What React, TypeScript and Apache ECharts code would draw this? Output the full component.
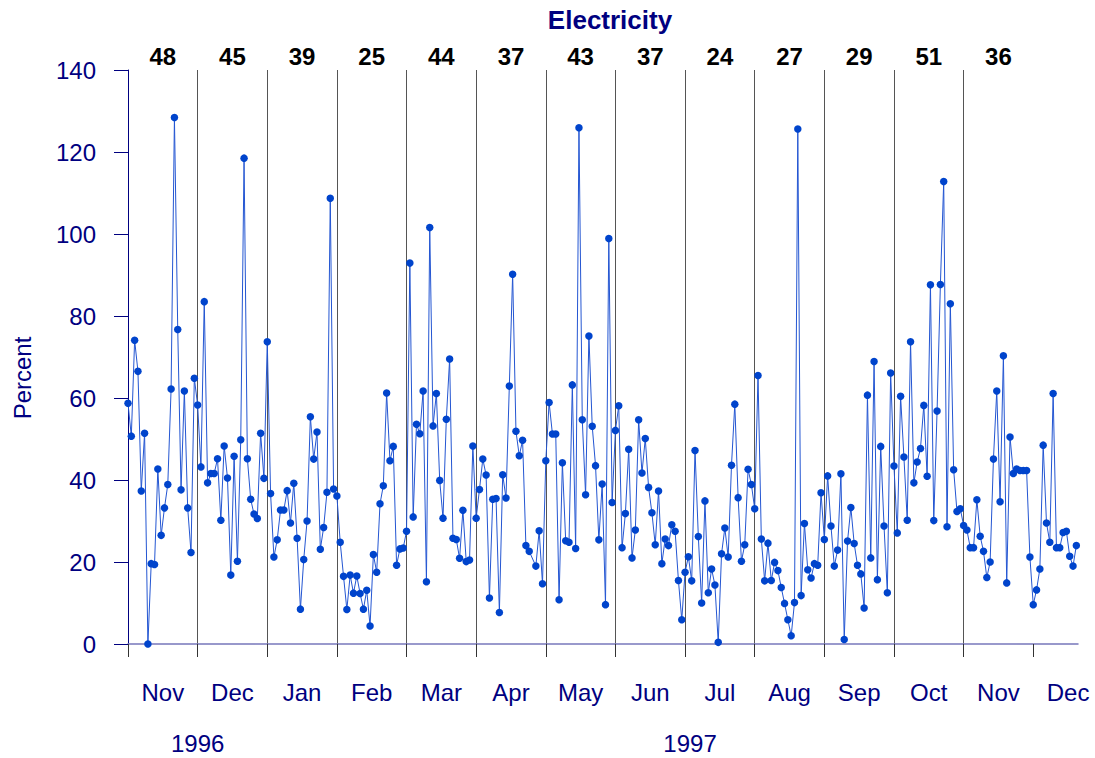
import React, { useEffect, useRef } from "react";
import * as echarts from "echarts";

// Month labels along the bottom (Nov 1996 .. Dec 1997)
const monthNames = ["Nov", "Dec", "Jan", "Feb", "Mar", "Apr", "May", "Jun", "Jul", "Aug", "Sep", "Oct", "Nov", "Dec"];
// Numbers printed above each month
const monthCounts = ["48", "45", "39", "25", "44", "37", "43", "37", "24", "27", "29", "51", "36"];
// Year labels and the index positions they sit under
const yearLabels = ["1996", "1997"];
const yearPositions = [21, 169.5];
// Observations per month on the x index
const POINTS_PER_MONTH = 21;

// Series values, month by month (Percent)
const nov96 = [58.7, 50.7, 74.1, 66.5, 37.3, 51.4, 0, 19.6, 19.4, 42.7, 26.5, 33.2, 38.9, 62.2, 128.4, 76.7, 37.6, 61.7, 33.2, 22.3, 64.8];
const dec96 = [58.3, 43.2, 83.5, 39.3, 41.6, 41.6, 45.2, 30.2, 48.3, 40.5, 16.8, 45.8, 20.2, 49.8, 118.5, 45.2, 35.3, 31.7, 30.6, 51.4, 40.4];
const jan97 = [73.7, 36.7, 21.2, 25.4, 32.7, 32.7, 37.4, 29.5, 39.2, 25.8, 8.5, 20.6, 30.0, 55.4, 45.1, 51.7, 23.1, 28.4, 37.0, 108.7, 37.8];
const feb97 = [36.1, 24.8, 16.5, 8.4, 16.8, 12.4, 16.6, 12.3, 8.5, 13.1, 4.4, 21.8, 17.5, 34.2, 38.6, 61.2, 44.7, 48.2, 19.2, 23.2, 23.4];
const mar97 = [27.5, 92.9, 31.0, 53.6, 51.3, 61.7, 15.2, 101.6, 53.2, 61.1, 39.9, 30.7, 54.8, 69.5, 25.8, 25.5, 20.9, 32.6, 20.1, 20.5, 48.3];
const apr97 = [30.7, 37.7, 45.1, 41.2, 11.2, 35.3, 35.5, 7.7, 41.3, 35.6, 62.9, 90.2, 51.9, 45.9, 49.7, 24.0, 22.6, null, 19.0, 27.6, 14.7];
const may97 = [44.7, 58.9, 51.2, 51.2, 10.8, 44.2, 25.2, 24.8, 63.2, 23.3, 125.9, 54.7, 36.4, 75.1, 53.1, 43.5, 25.4, 39.0, 9.6, 98.9, 34.5];
const jun97 = [52.1, 58.1, 23.5, 31.8, 47.5, 21.0, 27.8, 54.7, 41.7, 50.1, 38.2, 32.0, 24.2, 37.3, 19.6, 25.6, 24.0, 29.1, 27.5, 15.5, 5.9];
const jul97 = [17.5, 21.3, 15.4, 47.2, 26.2, 10.0, 34.9, 12.5, 18.3, 14.4, 0.4, 22.0, 28.3, 21.2, 43.6, 58.5, 35.7, 20.2, 24.2, 42.6, 38.9];
const aug97 = [33.0, 65.5, 25.6, 15.4, 24.6, 15.5, 19.9, 17.9, 13.8, 9.9, 5.9, 2.0, 10.1, 125.6, 11.8, 29.4, 18.1, 16.1, 19.6, 19.2, 36.9];
const sep97 = [25.5, 41.0, 28.8, 19.0, 22.9, 41.5, 1.1, 25.1, 33.3, 24.5, 19.2, 17.1, 8.8, 60.7, 21.0, 68.9, 15.7, 48.2, 28.8, 12.5, 66.1];
const oct97 = [43.4, 27.1, 60.4, 45.6, 30.2, 73.7, 39.3, 44.4, 47.7, 58.2, 40.9, 87.6, 30.1, 56.8, 87.7, 112.8, 28.6, 83.0, 42.5, 32.3, 33.0];
const nov97 = [28.9, 27.8, 23.5, 23.5, 35.2, 26.3, 22.6, 16.2, 20.0, 45.1, 61.7, 34.7, 70.3, 14.9, 50.5, 41.6, 42.7, 42.3, 42.3, 42.3, 21.2];
const dec97 = [9.6, 13.2, 18.3, 48.5, 29.5, 24.8, 61.1, 23.5, 23.5, 27.2, 27.5, 21.4, 19.0, 24.0];

const monthsData = [nov96, dec96, jan97, feb97, mar97, apr97, may97, jun97, jul97, aug97, sep97, oct97, nov97, dec97];

const FONT = "'Liberation Sans', Arial, Helvetica, sans-serif";
const NAVY = "#000080";

export default function App() {
  const ref = useRef<HTMLDivElement>(null);

  useEffect(() => {
    if (!ref.current) return;
    const chart = echarts.init(ref.current, undefined, { renderer: "svg" });

    const values: (number | null)[] = [];
    monthsData.forEach((m) => m.forEach((v) => values.push(v)));
    const seriesData = values.map((v, i) => [i, v]);
    const xMax = values.length - 0.5;

    const boundaries = monthNames.map((_, k) => k * POINTS_PER_MONTH);
    const monthCenters = monthNames.map((_, k) => k * POINTS_PER_MONTH + POINTS_PER_MONTH / 2);
    const countCenters = monthCounts.map((_, k) => k * POINTS_PER_MONTH + POINTS_PER_MONTH / 2);

    const idxOf = (v: number) => Math.round((v - POINTS_PER_MONTH / 2) / POINTS_PER_MONTH);

    chart.setOption({
      animation: false,
      grid: { left: 128, right: 17, top: 70, bottom: 114, containLabel: false },
      graphic: [
        {
          type: "text",
          x: 610,
          y: 20,
          style: {
            text: "Electricity",
            fill: NAVY,
            font: `bold 26px ${FONT}`,
            textAlign: "center",
            textVerticalAlign: "middle",
          },
        },
        {
          type: "text",
          x: 22,
          y: 378,
          rotation: Math.PI / 2,
          style: {
            text: "Percent",
            fill: NAVY,
            font: `24px ${FONT}`,
            textAlign: "center",
            textVerticalAlign: "middle",
          },
        },
      ],
      xAxis: [
        {
          type: "value",
          min: 0,
          max: xMax,
          interval: POINTS_PER_MONTH,
          position: "bottom",
          axisLine: { show: true, onZero: false, lineStyle: { color: "#7777bb", width: 1.5 } },
          axisTick: {
            show: true,
            length: 13,
            customValues: boundaries,
            lineStyle: { color: "#333333", width: 1 },
          },
          splitLine: {
            show: true,
            showMinLine: true,
            showMaxLine: false,
            lineStyle: { color: "#555555", width: 1 },
          },
          axisLabel: {
            show: true,
            customValues: monthCenters,
            margin: 36,
            color: NAVY,
            fontSize: 24,
            fontFamily: FONT,
            formatter: (v: number) => monthNames[idxOf(v)] ?? "",
          },
        },
        {
          type: "value",
          min: 0,
          max: xMax,
          position: "top",
          axisLine: { show: false },
          axisTick: { show: false },
          splitLine: { show: false },
          axisLabel: {
            show: true,
            customValues: countCenters,
            margin: 2,
            color: "#000000",
            fontSize: 24,
            fontWeight: "bold",
            fontFamily: FONT,
            formatter: (v: number) => monthCounts[idxOf(v)] ?? "",
          },
        },
        {
          type: "value",
          min: 0,
          max: xMax,
          position: "bottom",
          offset: 50,
          axisLine: { show: false },
          axisTick: { show: false },
          splitLine: { show: false },
          axisLabel: {
            show: true,
            customValues: yearPositions,
            margin: 37,
            color: NAVY,
            fontSize: 24,
            fontFamily: FONT,
            formatter: (v: number) => yearLabels[yearPositions.indexOf(v)] ?? "",
          },
        },
      ],
      yAxis: {
        type: "value",
        min: 0,
        max: 140,
        interval: 20,
        axisLine: { show: true, lineStyle: { color: NAVY, width: 1 } },
        axisTick: { show: true, length: 14, lineStyle: { color: NAVY } },
        splitLine: { show: false },
        axisLabel: { color: NAVY, fontSize: 24, fontFamily: FONT, margin: 32 },
      },
      series: [
        {
          type: "line",
          xAxisIndex: 0,
          data: seriesData,
          connectNulls: true,
          symbol: "circle",
          symbolSize: 7.5,
          showSymbol: true,
          showAllSymbol: true,
          itemStyle: { color: "#0044cc" },
          lineStyle: { color: "#2456d2", width: 1 },
          z: 5,
        },
      ],
    });

    return () => chart.dispose();
  }, []);

  return (
    <div
      ref={ref}
      style={{ position: "absolute", left: 0, top: 0, width: 1095, height: 758, background: "#ffffff" }}
    />
  );
}
